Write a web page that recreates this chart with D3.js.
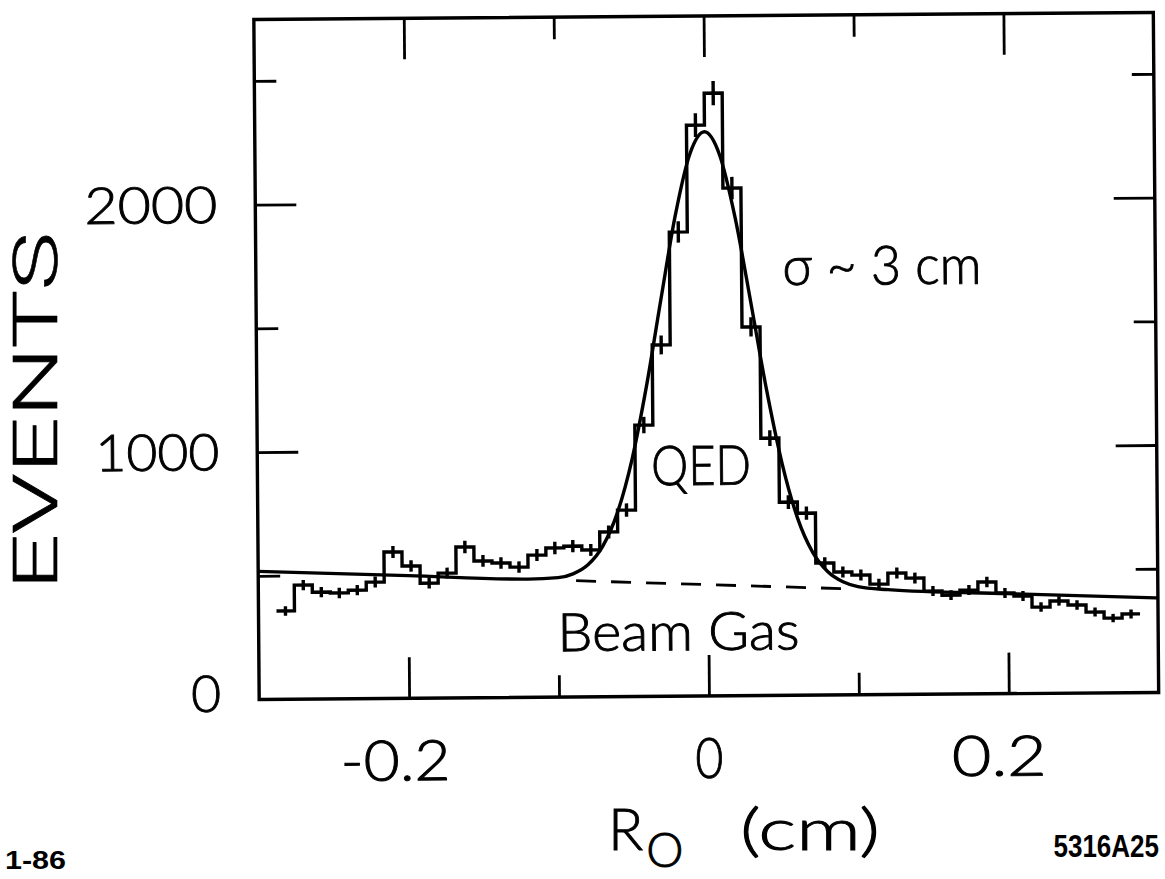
<!DOCTYPE html>
<html>
<head>
<meta charset="utf-8">
<script src="https://cdn.jsdelivr.net/npm/d3@7"></script>
<style>
  html, body { margin: 0; padding: 0; background: #fff; }
  svg { display: block; }
  text { fill: #000; }
</style>
</head>
<body>
<svg id="chart" width="1165" height="879"></svg>
<script>
// Histogram of the vertex radius R0 (cm): bin centres, counts and errors
const binCenters = [-0.282,-0.270,-0.258,-0.246,-0.234,-0.222,-0.210,-0.198,-0.186,-0.174,-0.162,-0.150,
  -0.138,-0.126,-0.114,-0.102,-0.090,-0.078,-0.066,-0.054,-0.042,-0.030,-0.018,-0.006,
  0.006,0.018,0.030,0.042,0.054,0.066,0.078,0.090,0.102,0.114,0.126,0.138,
  0.150,0.162,0.174,0.186,0.198,0.210,0.222,0.234,0.246,0.258,0.270,0.282];
const binWidth = 0.012;
const events = [357,461,432,428,439,471,592,535,465,505,610,553,
  544,527,575,603,610,594,666,754,1097,1420,1876,2307,
  2436,2052,1490,1040,781,736,534,497,484,447,491,470,
  417,400,420,452,407,394,349,373,356,327,302,318];
const eventErrors = [19,21,21,21,21,22,24,23,22,22,25,24,
  23,23,24,25,25,24,26,27,33,38,43,48,
  49,45,39,32,28,27,23,22,22,21,22,22,
  20,20,20,21,20,20,19,19,19,18,17,18];

// QED + beam-gas fit curve
const fitX = [-0.30,-0.20,-0.12,-0.10,-0.09,-0.08,-0.07,-0.06,-0.05,-0.04,-0.03,-0.02,-0.01,0.00,
  0.01,0.02,0.03,0.04,0.05,0.06,0.07,0.08,0.09,0.10,0.12,0.20,0.30];
const fitY = [518,496,478,483,498,534,609,745,960,1255,1603,1941,2189,2280,
  2185,1931,1589,1237,938,717,577,498,457,437,424,404,382];

// beam-gas background continued under the peak (dashed)
const bgX = [-0.088, 0.092];
const bgY = [470, 429];

// axis ticks and labels
const xMajorTicks = [-0.2, 0, 0.2];
const xMinorTicks = [-0.1, 0.1];
const xTickLabels = ["-0.2", "0", "0.2"];
const yMajorTicks = [0, 1000, 2000];
const yMinorTicks = [500, 1500, 2500];
const yTickLabels = ["0", "1000", "2000"];

const svg = d3.select("#chart");
const plotLeft = 256.5, plotRight = 1156, plotTop = 16, plotBottom = 696;

const x = d3.scaleLinear().domain([-0.3, 0.3]).range([plotLeft, plotRight]);
const y = d3.scaleLinear().domain([0, 2748]).range([plotBottom, plotTop]);

// the whole figure sits slightly tilted on the page
const g = svg.append("g").attr("transform", "rotate(-0.45, 706, 356)");

const FONT = "Lato, 'DejaVu Sans', sans-serif";
const LIGHT = 300;
const LW = 3.4;

// light lettering, thickened a little with an outline of the same colour
function letter(sel) {
  return sel.attr("font-family", FONT).attr("font-weight", LIGHT)
    .attr("stroke", "#000").attr("stroke-width", 0.9);
}

// frame
g.append("rect")
  .attr("x", plotLeft).attr("y", plotTop)
  .attr("width", plotRight - plotLeft).attr("height", plotBottom - plotTop)
  .attr("fill", "none").attr("stroke", "#000").attr("stroke-width", LW);

function ticks(axis, transform) {
  const a = g.append("g").attr("transform", transform).call(axis);
  a.select(".domain").remove();
  a.selectAll(".tick line").attr("stroke", "#000").attr("stroke-width", 2.8);
  a.selectAll(".tick text").remove();
}
const MAJ = -41, MIN = -22;
ticks(d3.axisBottom(x).tickValues(xMajorTicks).tickSize(MAJ), `translate(0,${plotBottom})`);
ticks(d3.axisBottom(x).tickValues(xMinorTicks).tickSize(MIN), `translate(0,${plotBottom})`);
ticks(d3.axisTop(x).tickValues(xMajorTicks).tickSize(MAJ), `translate(0,${plotTop})`);
ticks(d3.axisTop(x).tickValues(xMinorTicks).tickSize(MIN), `translate(0,${plotTop})`);
ticks(d3.axisLeft(y).tickValues(yMajorTicks.slice(1)).tickSize(MAJ), `translate(${plotLeft},0)`);
ticks(d3.axisLeft(y).tickValues(yMinorTicks).tickSize(MIN), `translate(${plotLeft},0)`);
ticks(d3.axisRight(y).tickValues(yMajorTicks.slice(1)).tickSize(MAJ), `translate(${plotRight},0)`);
ticks(d3.axisRight(y).tickValues(yMinorTicks).tickSize(MIN), `translate(${plotRight},0)`);

// tick labels
const xLabelShift = [-14, 0, -10];
const xLabelWidth = [110, 28, 95];
const xlab = letter(g.append("g")).attr("font-size", 56);
xlab.selectAll("text").data(xMajorTicks).join("text")
  .attr("x", (d, i) => x(d) + xLabelShift[i])
  .attr("y", plotBottom + 82)
  .attr("text-anchor", "middle")
  .attr("textLength", (d, i) => xLabelWidth[i]).attr("lengthAdjust", "spacingAndGlyphs")
  .text((d, i) => xTickLabels[i]);

const yLabelDrop = [12, 18, 18];
const yLabelWidth = [30, 124, 133];
const ylab = letter(g.append("g")).attr("font-size", 51);
ylab.selectAll("text").data(yMajorTicks).join("text")
  .attr("x", plotLeft - 38)
  .attr("y", (d, i) => y(d) + yLabelDrop[i])
  .attr("text-anchor", "end")
  .attr("textLength", (d, i) => yLabelWidth[i]).attr("lengthAdjust", "spacingAndGlyphs")
  .text((d, i) => yTickLabels[i]);

// histogram as a step outline
const stepPts = [];
binCenters.forEach((c, i) => {
  stepPts.push([c - binWidth / 2, events[i]]);
  stepPts.push([c + binWidth / 2, events[i]]);
});
g.append("path")
  .attr("d", d3.line().x(d => x(d[0])).y(d => y(d[1]))(stepPts))
  .attr("fill", "none").attr("stroke", "#000").attr("stroke-width", LW)
  .attr("stroke-linejoin", "miter");

// error bars
g.append("g").selectAll("line").data(binCenters).join("line")
  .attr("x1", d => x(d)).attr("x2", d => x(d))
  .attr("y1", (d, i) => y(events[i] - eventErrors[i]))
  .attr("y2", (d, i) => y(events[i] + eventErrors[i]))
  .attr("stroke", "#000").attr("stroke-width", LW);

// fit curve
g.append("path")
  .attr("d", d3.line().x(d => x(d[0])).y(d => y(d[1])).curve(d3.curveMonotoneX)(fitX.map((v, i) => [v, fitY[i]])))
  .attr("fill", "none").attr("stroke", "#000").attr("stroke-width", LW);

// background under the peak
g.append("path")
  .attr("d", d3.line().x(d => x(d[0])).y(d => y(d[1]))(bgX.map((v, i) => [v, bgY[i]])))
  .attr("fill", "none").attr("stroke", "#000").attr("stroke-width", 2.8)
  .attr("stroke-dasharray", "20,15");

// annotations
const ann = letter(g.append("g"));
ann.append("text").attr("font-size", 54)
  .attr("x", x(0.0513)).attr("y", y(1658))
  .attr("textLength", 199).attr("lengthAdjust", "spacingAndGlyphs")
  .text("σ ~ 3 cm");
ann.append("text").attr("font-size", 55)
  .attr("x", x(-0.004)).attr("y", y(853)).attr("text-anchor", "middle")
  .attr("textLength", 100).attr("lengthAdjust", "spacingAndGlyphs")
  .text("QED");
ann.append("text").attr("font-size", 53)
  .attr("x", x(-0.02)).attr("y", y(186)).attr("text-anchor", "middle")
  .attr("textLength", 242).attr("lengthAdjust", "spacingAndGlyphs")
  .text("Beam Gas");

// axis titles
svg.append("text")
  .attr("font-family", "Roboto, 'Liberation Sans', sans-serif").attr("font-weight", 300)
  .attr("stroke", "#000").attr("stroke-width", 0.6)
  .attr("font-size", 61)
  .attr("transform", "translate(57,411) rotate(-90)")
  .attr("text-anchor", "middle")
  .attr("textLength", 358).attr("lengthAdjust", "spacingAndGlyphs")
  .text("EVENTS");

const xt = letter(svg.append("text")).attr("font-size", 58)
  .attr("x", 608).attr("y", 850);
xt.append("tspan").text("R");
xt.append("tspan").attr("font-size", 47).attr("dy", 17).attr("dx", 3).text("O");
letter(svg.append("text")).attr("font-size", 58)
  .attr("x", 740).attr("y", 850)
  .attr("textLength", 140).attr("lengthAdjust", "spacingAndGlyphs")
  .text("(cm)");

// figure codes
svg.append("text").attr("font-family", "'Liberation Sans', sans-serif").attr("font-weight", "bold")
  .attr("font-size", 25).attr("x", 5).attr("y", 869)
  .attr("textLength", 61).attr("lengthAdjust", "spacingAndGlyphs")
  .text("1-86");
svg.append("text").attr("font-family", "'Liberation Sans', sans-serif").attr("font-weight", "bold")
  .attr("font-size", 26)
  .attr("transform", "translate(1159,857) scale(1,1.18)")
  .attr("text-anchor", "end")
  .text("5316A25");
</script>
</body>
</html>
